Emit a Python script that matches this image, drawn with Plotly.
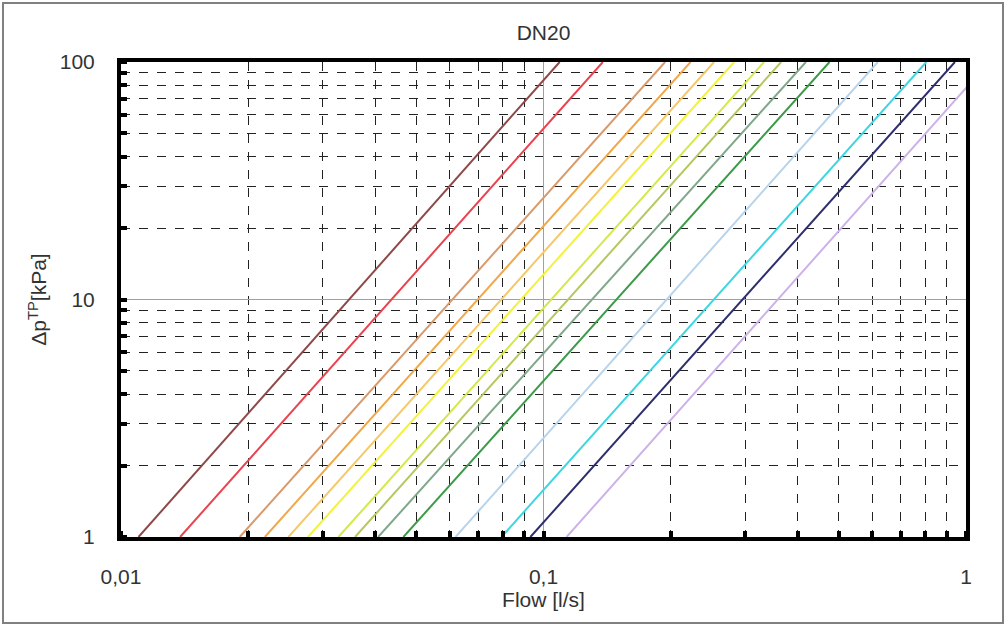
import plotly.graph_objects as go

# Flow [l/s] read where each curve crosses 1 kPa and 100 kPa
dp_points = [1, 100]
flow_at_1kpa = [0.0110, 0.0138, 0.0191, 0.0219, 0.0249, 0.0277, 0.0327, 0.0358,
                0.0406, 0.0466, 0.0619, 0.0795, 0.0931, 0.1134]
flow_at_100kpa = [0.1092, 0.1382, 0.1940, 0.2229, 0.2533, 0.2827, 0.3327, 0.3652,
                  0.4179, 0.4753, 0.6185, 0.8054, 0.9414, 1.1340]
line_colors = ["#8e4848", "#e8434f", "#d99a6c", "#f0a848", "#f5c86a", "#f2f23c",
               "#d4e84a", "#b5c860", "#7fa88a", "#3c9a48", "#b8d4ec", "#3ed6e0",
               "#2e2e6e", "#cdb2e8"]

x_tickvals = [0.01, 0.1, 1]
x_ticktext = ["0,01", "0,1", "1"]
y_tickvals = [1, 10, 100]
y_ticktext = ["1", "10", "100"]

fig = go.Figure()
for q1, q100, c in zip(flow_at_1kpa, flow_at_100kpa, line_colors):
    fig.add_trace(go.Scatter(x=[q1, q100], y=dp_points, mode="lines",
                             line=dict(color=c, width=2), showlegend=False,
                             hoverinfo="skip"))

font = dict(family="Liberation Sans, Arial, sans-serif", size=21, color="#333333")

axis_common = dict(
    type="log", showline=True, linecolor="black", linewidth=4, mirror=True,
    showgrid=True, gridcolor="#a0a0a0", gridwidth=1,
    ticks="", zeroline=False,
    minor=dict(dtick="D1", showgrid=True, gridcolor="#222222", griddash="dash",
               gridwidth=1.2, ticks="inside", ticklen=6, tickwidth=4,
               tickcolor="black"),
    tickfont=font,
)

fig.update_layout(
    width=1006, height=626,
    margin=dict(l=121, r=40, t=62, b=89),
    paper_bgcolor="white", plot_bgcolor="white",
    title=dict(text="DN20", x=0.5, xref="paper", y=1 - 33 / 626,
               yanchor="middle", font=font),
    font=font,
    xaxis=dict(axis_common, range=[-2, 0], tickvals=x_tickvals,
               ticktext=x_ticktext, ticklabelstandoff=18,
               title=dict(text="Flow [l/s]", font=font, standoff=6)),
    yaxis=dict(axis_common, range=[0, 2], tickvals=y_tickvals,
               ticktext=y_ticktext, ticklabelstandoff=18,
               title=dict(text="Δp<sup>TP</sup>[kPa]", font=font, standoff=8)),
    shapes=[dict(type="rect", xref="paper", yref="paper",
                 x0=(3 - 121) / 845, x1=(1003 - 121) / 845,
                 y0=(537 - 623) / 475, y1=(537 - 3) / 475,
                 line=dict(color="#808080", width=2), layer="below")],
)

fig.write_html("out.html")
